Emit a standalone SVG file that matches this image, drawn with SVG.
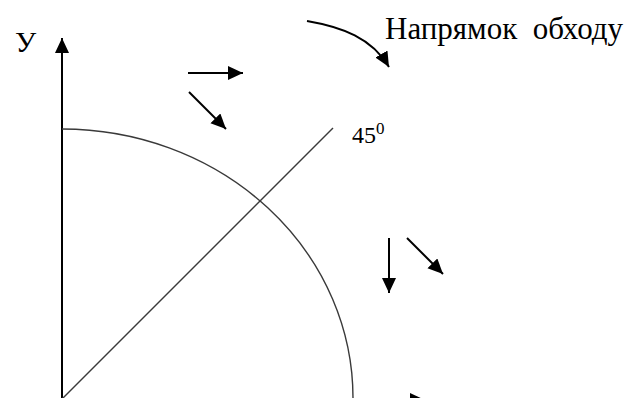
<svg xmlns="http://www.w3.org/2000/svg" width="636" height="398" viewBox="0 0 636 398">
<style>
.t{font-family:"Liberation Serif","Times New Roman",serif;fill:#000;white-space:pre}
.arr{stroke:#000;stroke-width:2;fill:none;marker-end:url(#ah)}
.thin{stroke:#3a3a3a;stroke-width:1.4;fill:none}
</style>
<defs>
<marker id="ah" markerUnits="userSpaceOnUse" markerWidth="16" markerHeight="15" refX="15" refY="7" orient="auto">
<path d="M0,0 L15,7 L0,14 z" fill="#000"/>
</marker>
</defs>
<rect width="636" height="398" fill="#fff"/>
<g id="axis-y">
<line class="arr" x1="62" y1="400" x2="62" y2="38"/>
<text class="t" x="15" y="52" font-size="30">У</text>
</g>
<g id="arc">
<path class="thin" d="M62,129 A291,269 0 0 1 353,398"/>
</g>
<g id="diagonal">
<line class="thin" x1="62" y1="399" x2="333" y2="128"/>
<text class="t" x="352" y="143" font-size="24">45<tspan font-size="17" dy="-9">0</tspan></text>
</g>
<g id="direction">
<path class="arr" d="M307,21 C342,27 372,38 389,67"/>
<text class="t" x="385" y="39" font-size="31">Напрямок  обходу</text>
</g>
<g id="connectors">
<line class="arr" x1="188" y1="73" x2="243" y2="73"/>
<line class="arr" x1="189" y1="92" x2="226" y2="129"/>
<line class="arr" x1="389" y1="238" x2="389" y2="293"/>
<line class="arr" x1="407" y1="238" x2="443" y2="274"/>
<line class="arr" x1="370" y1="400" x2="425" y2="400"/>
</g>
</svg>
